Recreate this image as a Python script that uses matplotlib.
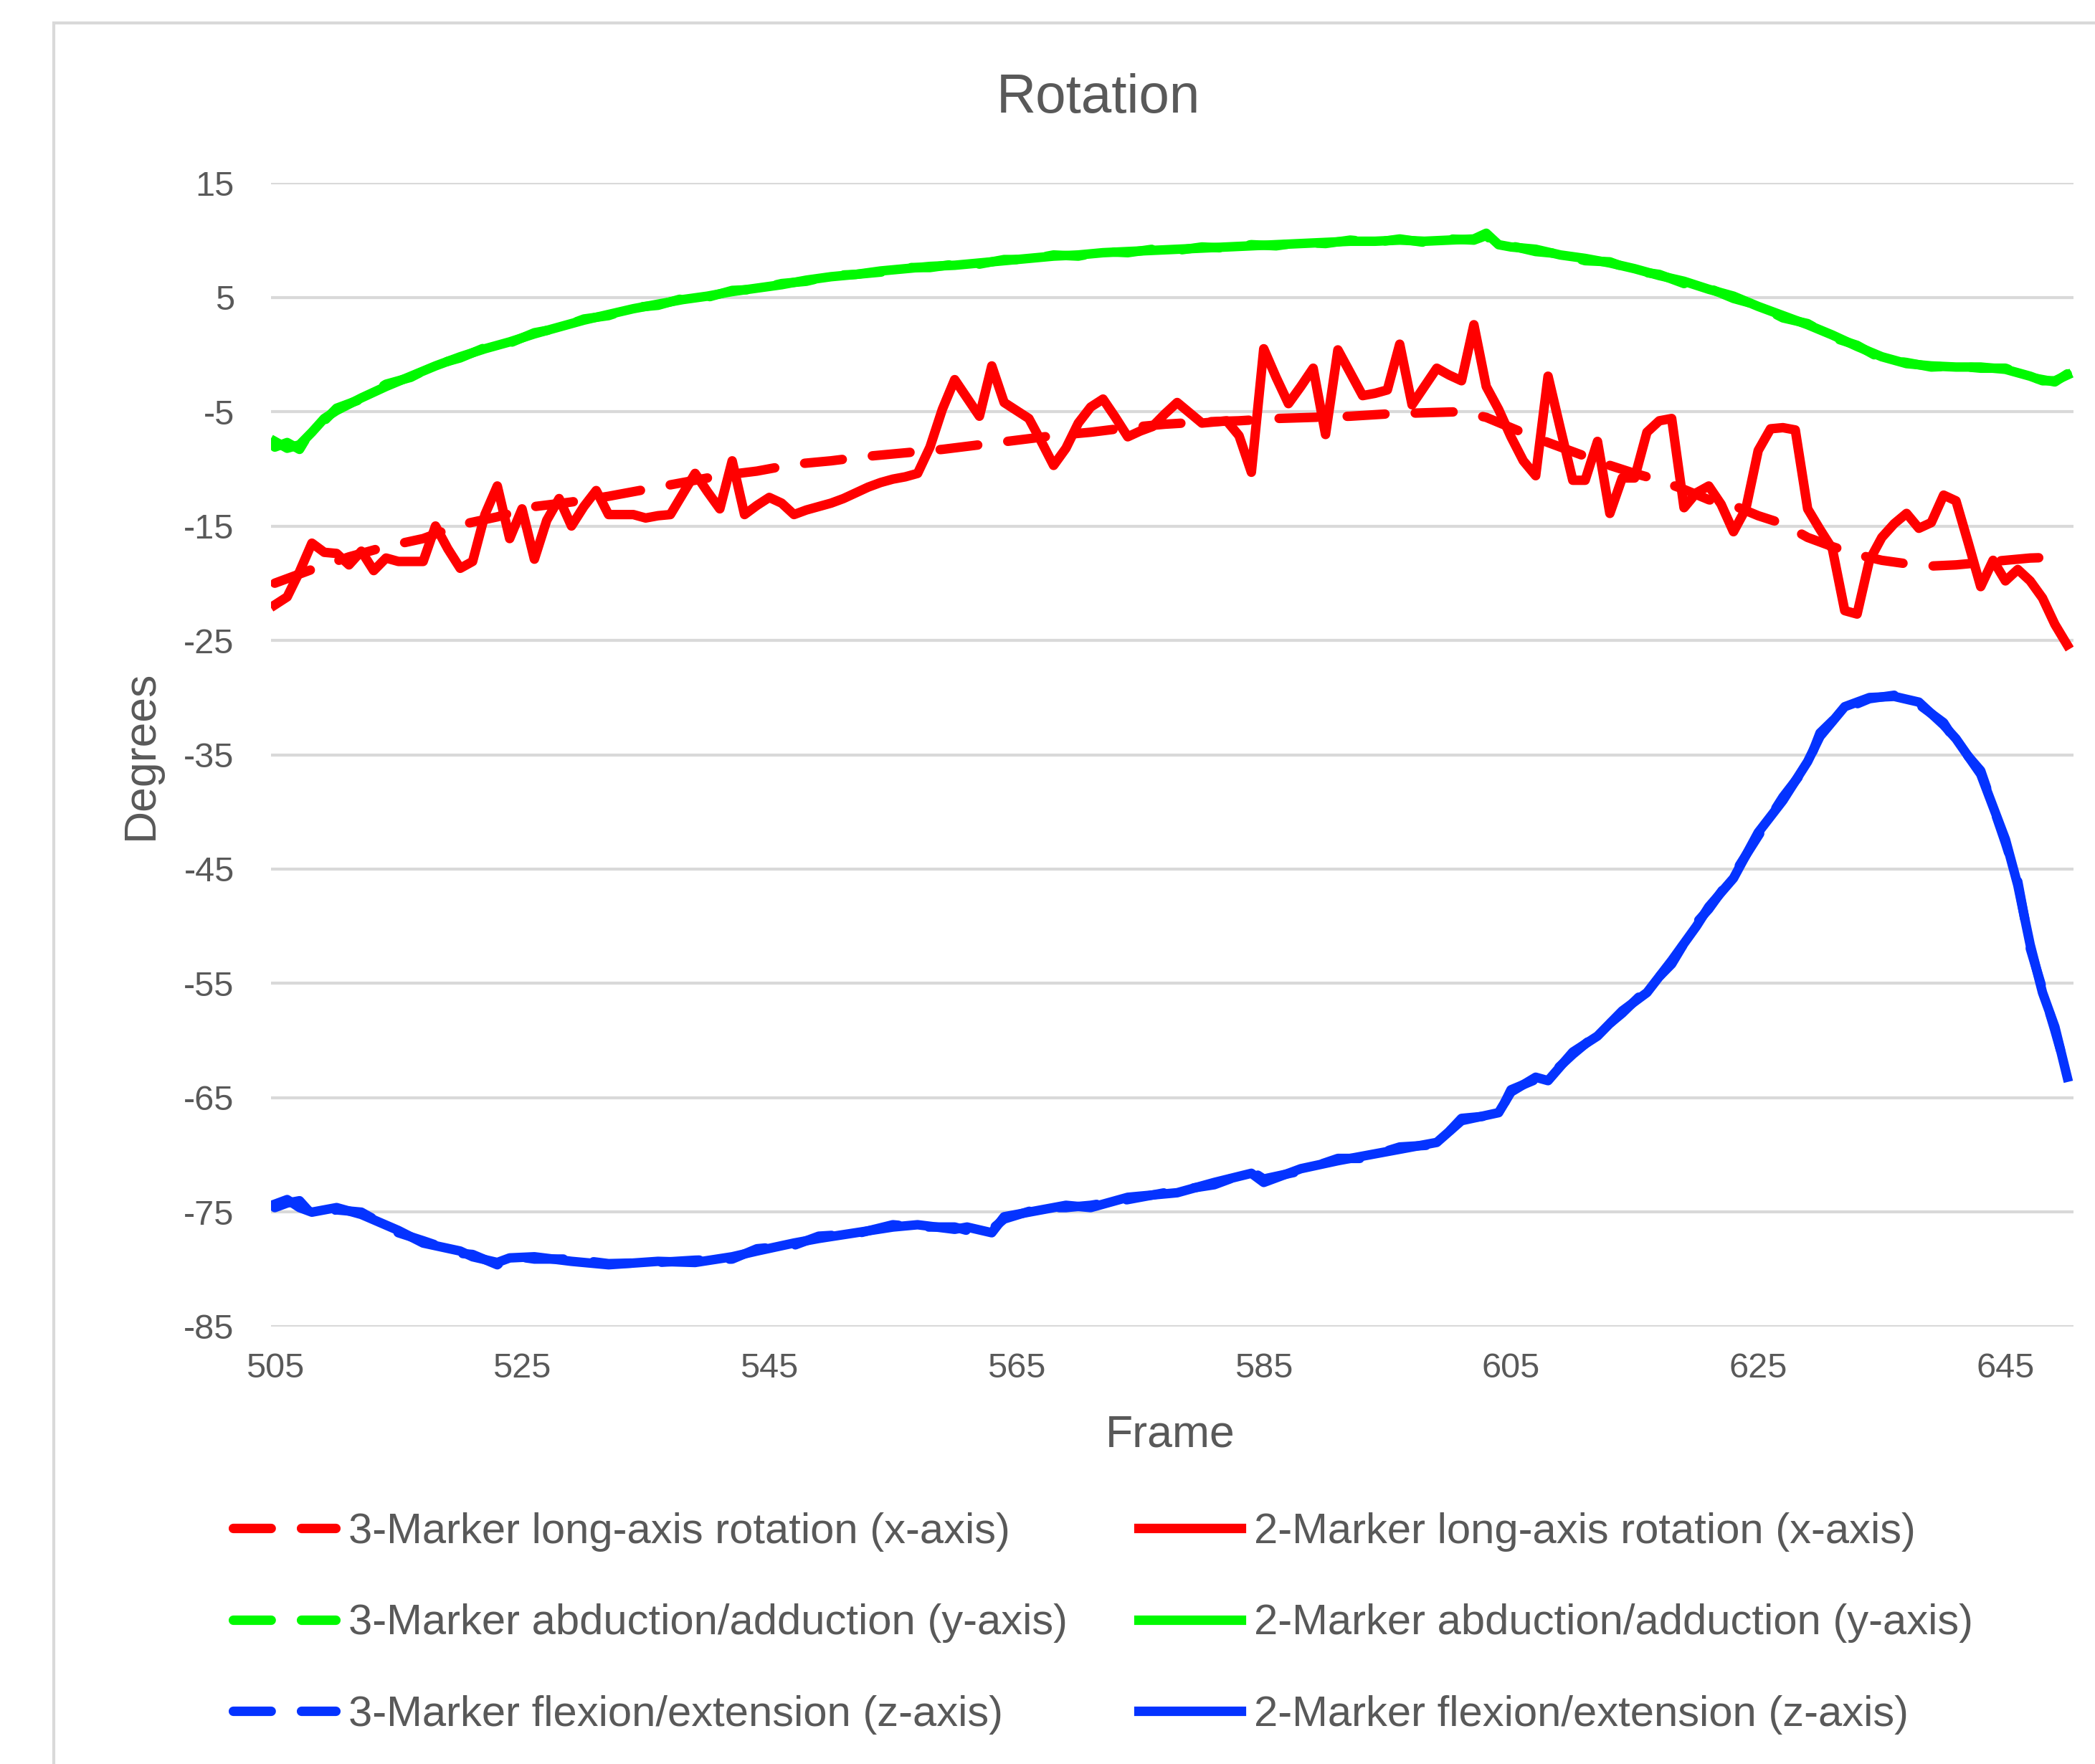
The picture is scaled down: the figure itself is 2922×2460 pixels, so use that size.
import matplotlib
matplotlib.use("Agg")
import matplotlib.pyplot as plt
from matplotlib.patches import Rectangle

plt.rcParams["font.family"] = ["Liberation Sans", "DejaVu Sans"]
plt.rcParams["axes.unicode_minus"] = False

# =========================
# data
# =========================
frames = list(range(505, 651))

# 2-Marker long-axis rotation (x-axis), one value per frame
red_2m = [
    -21.9, -21.2, -19.0, -16.5, -17.3, -17.4, -18.4, -17.2, -18.9, -17.8,
    -18.1, -18.1, -18.1, -15.0, -17.0, -18.7, -18.1, -14.0, -11.5, -16.1,
    -13.5, -17.9, -14.5, -12.6, -15.0, -13.3, -11.9, -14.0, -14.0, -14.0,
    -14.3, -14.1, -14.0, -12.2, -10.4, -12.0, -13.5, -9.3, -14.0, -13.2,
    -12.5, -13.0, -14.0, -13.6, -13.3, -13.0, -12.6, -12.1, -11.6, -11.2,
    -10.9, -10.7, -10.4, -8.1, -4.8, -2.2, -3.8, -5.4, -1.0, -4.2,
    -4.9, -5.6, -7.6, -9.7, -8.2, -6.0, -4.6, -3.9, -5.5, -7.2,
    -6.7, -6.3, -5.2, -4.2, -5.1, -6.0, -5.9, -5.8, -7.1, -10.3,
    0.5, -2.0, -4.3, -2.8, -1.2, -7.0, 0.4, -1.6, -3.6, -3.4,
    -3.1, 0.9, -4.4, -2.8, -1.2, -1.8, -2.3, 2.6, -2.8, -4.8,
    -7.2, -9.3, -10.6, -1.9, -6.5, -11.0, -11.0, -7.6, -13.9, -10.8,
    -10.8, -6.8, -5.8, -5.6, -13.4, -12.1, -11.5, -13.1, -15.5, -13.5,
    -8.4, -6.5, -6.4, -6.6, -13.5, -15.3, -17.0, -22.4, -22.7, -18.0,
    -16.0, -14.8, -13.9, -15.2, -14.7, -12.3, -12.8, -16.5, -20.3, -18.0,
    -19.8, -18.8, -19.8, -21.3, -23.6, -25.4,
]

# 3-Marker long-axis rotation (x-axis)
red_3m_frames = [505, 508, 511, 514, 517, 520, 523, 526, 529, 532, 535, 538,
                 541, 544, 547, 550, 553, 556, 559, 562, 565, 568, 571, 574,
                 577, 580, 583, 586, 589, 592, 595, 598, 601, 603, 605, 607,
                 609, 611, 613, 615, 617, 619, 621, 623, 625, 627, 629, 631,
                 633, 635, 637, 639, 641, 643, 645, 647, 650]
red_3m = [-20.0, -18.8, -17.7, -16.8, -16.1, -14.9, -14.2, -13.3, -12.9,
          -12.4, -11.8, -11.2, -10.6, -10.2, -9.6, -9.3, -8.9, -8.6, -8.3,
          -7.9, -7.5, -7.1, -6.8, -6.4, -6.1, -5.9, -5.8, -5.6, -5.5, -5.4,
          -5.2, -5.1, -5.0, -5.5, -6.4, -7.3, -8.1, -8.9, -9.7, -10.4, -11.0,
          -11.8, -12.7, -13.2, -14.1, -14.8, -16.0, -16.8, -17.5, -18.0,
          -18.3, -18.5, -18.4, -18.2, -18.0, -17.8, -17.7]

# abduction/adduction (y-axis)
green_frames = [505, 506, 507, 508, 509, 510, 512, 514, 516, 518, 520, 522,
                524, 526, 528, 530, 532, 534, 536, 538, 540, 542, 544, 546,
                548, 550, 552, 554, 556, 558, 560, 562, 564, 566, 568, 570,
                572, 574, 576, 578, 580, 582, 584, 586, 588, 590, 592, 594,
                596, 598, 600, 602, 603, 604, 605, 607, 609, 611, 613, 615,
                617, 619, 621, 623, 625, 627, 629, 631, 633, 635, 637, 639,
                641, 643, 645, 647, 648, 649, 650]
green_2m = [-7.6, -8.2, -7.9, -6.8, -5.6, -4.9, -3.8, -2.8, -1.9, -1.0, -0.2,
            0.5, 1.1, 1.8, 2.4, 3.0, 3.5, 4.0, 4.4, 4.8, 5.1, 5.5, 5.8, 6.1,
            6.5, 6.8, 7.0, 7.3, 7.5, 7.7, 7.8, 8.0, 8.2, 8.4, 8.6, 8.7, 8.9,
            9.0, 9.1, 9.2, 9.3, 9.4, 9.5, 9.6, 9.7, 9.8, 9.9, 9.9, 10.0, 9.9,
            10.0, 10.1, 10.6, 9.6, 9.4, 9.2, 8.7, 8.4, 8.0, 7.5, 6.9, 6.4,
            5.7, 5.1, 4.2, 3.4, 2.6, 1.7, 0.7, -0.2, -0.8, -1.0, -1.1, -1.1,
            -1.3, -1.9, -2.3, -2.3, -1.8]
green_3m = [-8.1, -7.7, -8.3, -6.5, -5.8, -4.7, -3.9, -2.6, -2.0, -0.9, -0.3,
            0.6, 1.0, 1.9, 2.3, 3.1, 3.4, 4.1, 4.3, 4.9, 5.0, 5.6, 5.7, 6.2,
            6.4, 6.9, 7.0, 7.2, 7.6, 7.6, 7.9, 7.9, 8.3, 8.3, 8.7, 8.6, 9.0,
            8.9, 9.2, 9.1, 9.4, 9.3, 9.6, 9.5, 9.8, 9.7, 10.0, 9.8, 10.1, 9.8,
            10.1, 10.0, 10.4, 9.4, 9.5, 9.0, 8.8, 8.2, 8.1, 7.3, 7.0, 6.2,
            5.8, 4.9, 4.3, 3.2, 2.7, 1.5, 0.8, -0.4, -0.7, -1.1, -1.0, -1.2,
            -1.2, -2.0, -2.2, -2.4, -1.7]

# flexion/extension (z-axis)
blue_frames = [505, 506, 507, 508, 510, 512, 515, 517, 520, 521, 523, 524,
               526, 529, 532, 536, 539, 542, 544, 547, 549, 552, 555, 557,
               560, 561, 563, 564, 567, 569, 571, 574, 578, 581, 584, 585,
               588, 591, 593, 596, 599, 601, 604, 605, 607, 608, 610, 612,
               614, 616, 618, 620, 621, 623, 625, 627, 629, 630, 632, 634,
               636, 638, 640, 641, 643, 645, 646, 647, 648, 649, 650]
blue_2m = [-74.3, -73.9, -74.6, -75.0, -74.6, -75.2, -76.6, -77.7, -78.4,
           -78.9, -79.4, -79.0, -78.9, -79.3, -79.6, -79.3, -79.4, -78.9,
           -78.4, -77.7, -77.3, -76.8, -76.3, -76.1, -76.5, -76.3, -76.8,
           -75.4, -74.8, -74.4, -74.6, -73.7, -73.3, -72.4, -71.6, -72.4,
           -71.2, -70.5, -70.1, -69.5, -68.9, -67.0, -66.3, -64.5, -63.2,
           -63.5, -61.0, -59.6, -57.4, -55.8, -53.0, -50.0, -48.3, -45.8,
           -41.8, -39.0, -35.6, -33.4, -30.8, -30.0, -29.9, -30.4, -32.4,
           -33.6, -36.7, -42.4, -46.4, -51.6, -55.8, -58.8, -63.2]
blue_3m = [-74.6, -74.2, -74.0, -75.2, -74.8, -75.0, -76.8, -77.5, -78.6,
           -78.7, -79.6, -78.8, -79.1, -79.1, -79.5, -79.4, -79.2, -79.1,
           -78.2, -77.9, -77.1, -76.9, -76.1, -76.3, -76.3, -76.6, -76.5,
           -75.6, -74.6, -74.6, -74.4, -73.9, -73.1, -72.6, -71.4, -72.1,
           -71.4, -70.3, -70.3, -69.3, -69.1, -66.8, -66.5, -64.3, -63.4,
           -63.2, -61.2, -59.4, -57.6, -55.5, -53.3, -49.7, -48.5, -45.5,
           -42.1, -38.7, -35.9, -33.1, -31.0, -30.1, -29.8, -30.6, -32.2,
           -33.9, -36.4, -42.7, -46.1, -51.9, -55.5, -59.1, -62.9]

x_ticks = [505, 525, 545, 565, 585, 605, 625, 645]
y_ticks = [15, 5, -5, -15, -25, -35, -45, -55, -65, -75, -85]

labels_3m = ["3-Marker long-axis rotation (x-axis)",
             "3-Marker abduction/adduction (y-axis)",
             "3-Marker flexion/extension (z-axis)"]
labels_2m = ["2-Marker long-axis rotation (x-axis)",
             "2-Marker abduction/adduction (y-axis)",
             "2-Marker flexion/extension (z-axis)"]

RED = "#FF0000"
GREEN = "#00F900"
BLUE = "#0433FF"
TEXT = "#595959"
GRID = "#D9D9D9"

# =========================
# figure
# =========================
fig = plt.figure(figsize=(29.22, 24.6), dpi=100)
ax = fig.add_axes([0.1294, 0.2480, 0.8603, 0.6483])

lw = 9.5
dash = dict(linestyle=(0, (4.0, 3.2)), dash_capstyle="round")

ax.plot(red_3m_frames, red_3m, color=RED, lw=lw, label=labels_3m[0], **dash)
ax.plot(green_frames, green_3m, color=GREEN, lw=lw, label=labels_3m[1], **dash)
ax.plot(blue_frames, blue_3m, color=BLUE, lw=lw, label=labels_3m[2], **dash)
ax.plot(frames, red_2m, color=RED, lw=lw, label=labels_2m[0],
        solid_joinstyle="round")
ax.plot(green_frames, green_2m, color=GREEN, lw=lw, label=labels_2m[1])
ax.plot(blue_frames, blue_2m, color=BLUE, lw=lw, label=labels_2m[2])

ax.set_xlim(504.7, 650.5)
ax.set_ylim(-85, 15)
ax.set_xticks(x_ticks)
ax.set_yticks(y_ticks)
ax.tick_params(length=0, labelsize=35, colors=TEXT)
ax.tick_params(axis="y", pad=37)
ax.tick_params(axis="x", pad=26)
for s in ax.spines.values():
    s.set_visible(False)
ax.grid(axis="y", color=GRID, lw=3)
ax.set_axisbelow(True)

fig.text(0.5243, 0.9442, "Rotation", fontsize=55, color=TEXT,
         ha="center", va="center")
fig.text(0.5585, 1 - 2001 / 2460, "Frame", fontsize=45, color=TEXT,
         ha="center", va="center")
fig.text(196 / 2922, 1 - 1053 / 2460, "Degrees", fontsize=45, color=TEXT,
         rotation=90, ha="center", va="center")

# chart area border (cut off on the right and bottom)
fig.patches.append(Rectangle((75 / 2922, -0.1), 1.2, 1.1 - 32 / 2460,
                             transform=fig.transFigure, fill=False,
                             ec=GRID, lw=3))

handles, labels = ax.get_legend_handles_labels()
fig.legend(handles, labels, loc="center", bbox_to_anchor=(0.5265, 0.0797),
           ncol=2, frameon=False, fontsize=43, labelcolor=TEXT,
           handlelength=2.4, handletextpad=0.3, columnspacing=1.65,
           labelspacing=1.22)

plt.savefig("out.png", dpi=100)
plt.close()
